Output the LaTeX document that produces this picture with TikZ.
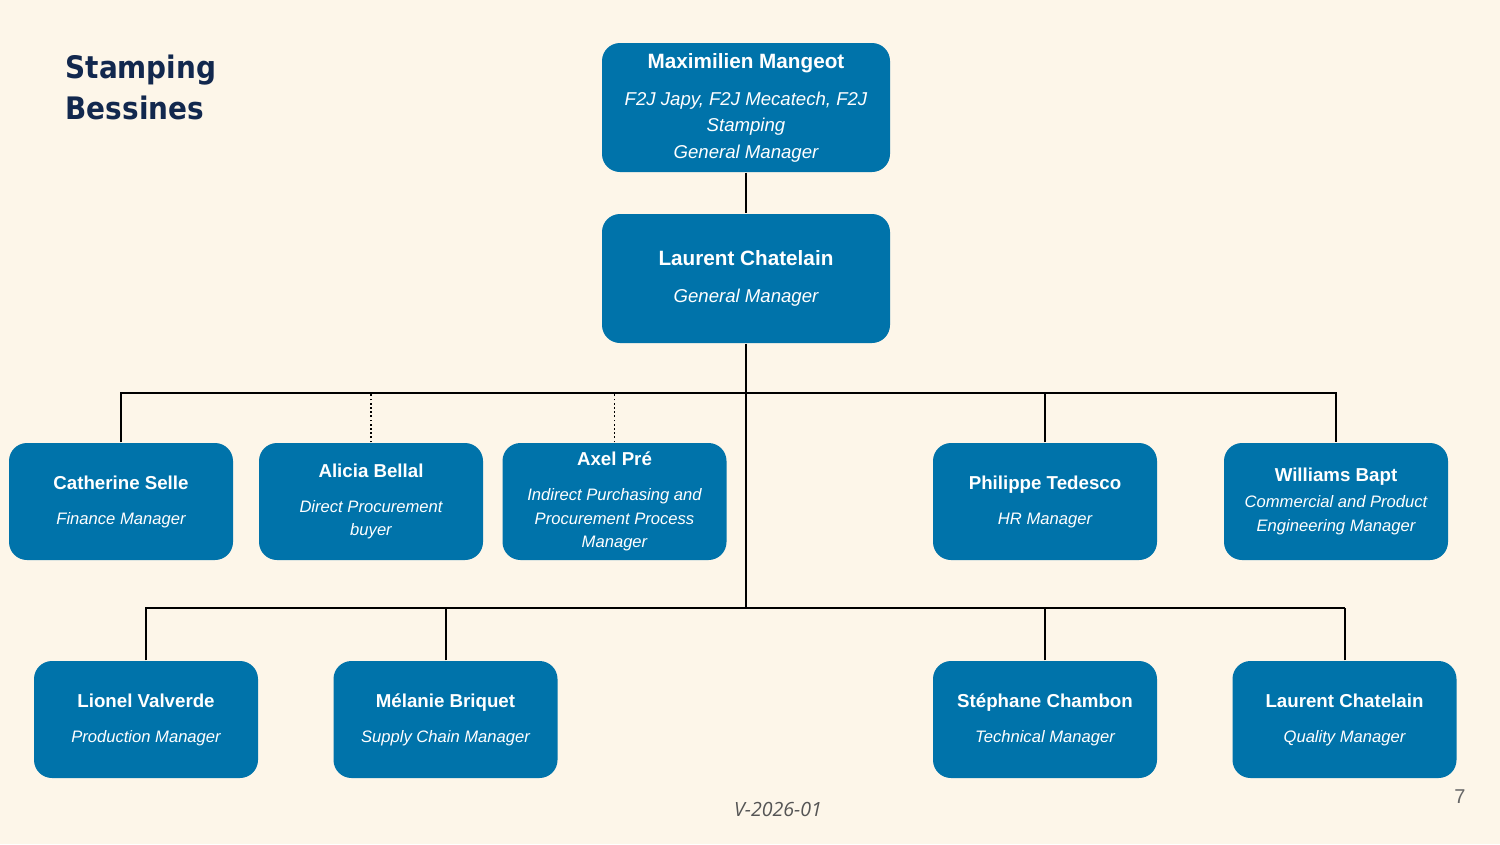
\documentclass[tikz,border=0pt]{standalone}
\usepackage{fontspec}
\setmainfont{Liberation Sans}
\newfontfamily\headfont{DejaVu Sans Condensed}
\newfontfamily\footfont{Open Sans}
\usepackage{tikz}
\usetikzlibrary{positioning}
\definecolor{myblue}{RGB}{0,115,170}
\definecolor{mycream}{RGB}{253,246,233}
\definecolor{mynavy}{RGB}{18,40,78}
\definecolor{mygray}{RGB}{85,85,85}
\newcommand\nm[1]{{\fontsize{18.7}{20}\selectfont\bfseries\upshape #1}}
\newcommand\topnm[1]{{\fontsize{20.7}{22}\selectfont\bfseries\upshape #1}}

\begin{document}
\begin{tikzpicture}[x=1pt,y=-1pt,line width=1.3pt]
\tikzstyle{person}=[rectangle,rounded corners=18pt,fill=myblue,text=white,minimum width=224pt,minimum height=117pt,inner sep=0,align=center,font=\fontsize{16.6}{23.5}\selectfont\itshape]
\tikzstyle{chief}=[person,minimum width=288pt,minimum height=129pt,font=\fontsize{18.6}{26.5}\selectfont\itshape]
\tikzstyle{dotline}=[line width=1.8pt,dash pattern=on 1.8pt off 2.4pt]
\tikzstyle{drop}=[line width=2pt]
\path[use as bounding box,fill=mycream] (0,0) rectangle (1500,844);
% heading and footer
\node[font=\headfont\bfseries\fontsize{31}{41}\selectfont,text=mynavy,align=left,anchor=north west,inner sep=0] (ttl) at (65,54.3) {Stamping\\Bessines};
\node[font=\footfont\itshape\fontsize{19.6}{24}\selectfont,text=mygray] (ver) at (778,809) {V-2026-01};
\node[font=\fontsize{20}{24}\selectfont,text=mygray!90] (pg) at (1460,796.5) {7};
% management
\node[chief] (mm) at (746,107.5) {\topnm{Maximilien Mangeot}\\[10.5pt]F2J Japy, F2J Mecatech, F2J\\Stamping\\General Manager};
\node[chief] (lc) at (746,278.5) {\topnm{Laurent Chatelain}\\[10.5pt]General Manager};
% first row
\node[person] (cs) at (121,501.5)   {\nm{Catherine Selle}\\[11.5pt]Finance Manager};
\node[person] (ab) at (371,501.5)   {\nm{Alicia Bellal}\\[11.5pt]Direct Procurement\\buyer};
\node[person] (ap) at (614.5,501.5) {\nm{Axel Pré}\\[11.5pt]Indirect Purchasing and\\Procurement Process\\Manager};
\node[person] (pt) at (1045,501.5)  {\nm{Philippe Tedesco}\\[11.5pt]HR Manager};
\node[person] (wb) at (1336,501.5)  {\nm{Williams Bapt}\\[2.5pt]Commercial and Product\\Engineering Manager};
% second row
\node[person] (lv) at (146,719.5)    {\nm{Lionel Valverde}\\[11.5pt]Production Manager};
\node[person] (mb) at (445.5,719.5)  {\nm{Mélanie Briquet}\\[11.5pt]Supply Chain Manager};
\node[person] (sc) at (1045,719.5)   {\nm{Stéphane Chambon}\\[11.5pt]Technical Manager};
\node[person] (lq) at (1344.5,719.5) {\nm{Laurent Chatelain}\\[11.5pt]Quality Manager};
% connectors
\coordinate (bus1) at (746,393);
\coordinate (bus2) at (746,608);
\draw (mm) -- (lc);
\draw (lc) -- (bus2);
\draw (cs.north) |- (wb.north |- bus1) -- (wb.north);
\draw (pt.north) -- (pt.north |- bus1);
\draw[dotline] (ab.north) -- (ab.north |- bus1);
\draw[dotline] (ap.north) -- (ap.north |- bus1);
\draw (lv.north) |- (lq.north |- bus2);
\draw[drop] (mb.north) -- (mb.north |- bus2);
\draw[drop] (sc.north) -- (sc.north |- bus2);
\draw[drop] (lq.north) -- (lq.north |- bus2);
\end{tikzpicture}
\end{document}
